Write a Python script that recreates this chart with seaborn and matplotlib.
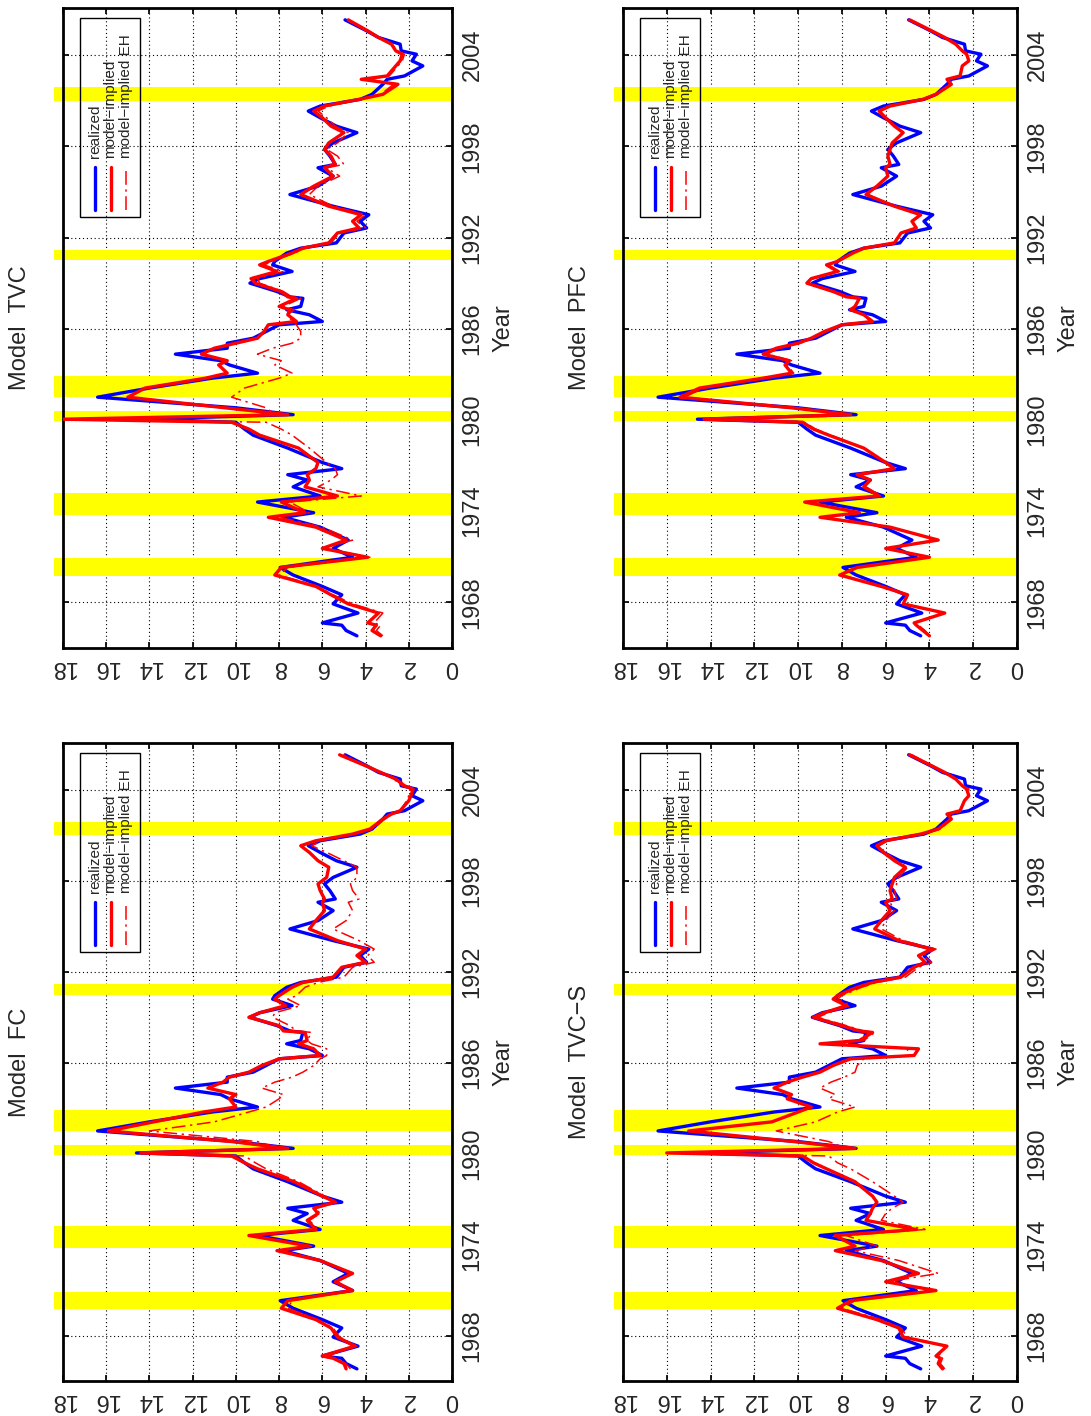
import matplotlib
matplotlib.use("Agg")
import matplotlib.pyplot as plt
from matplotlib.patches import Rectangle
from matplotlib.lines import Line2D
import seaborn as sns

sns.set_theme(style="white")
plt.rcParams["font.family"] = ["Liberation Sans", "DejaVu Sans"]

# sample dates (years) shared by all series
years = [1965.8, 1966.15, 1966.5, 1966.65, 1967.3, 1967.9, 1968.5, 1969.05, 1969.8, 1970.3,
         1970.97, 1971.55, 1972.1, 1972.95, 1973.6, 1973.9, 1974.6, 1975.0, 1975.6, 1976.05,
         1976.4, 1976.8, 1977.2, 1978.15, 1979.0, 1979.4, 1979.85, 1980.05, 1980.35, 1980.8,
         1981.5, 1982.1, 1982.75, 1983.08, 1983.62, 1983.9, 1984.33, 1984.72, 1985.05, 1985.38,
         1985.82, 1986.26, 1986.48, 1986.92, 1987.25, 1987.47, 1988.0, 1988.1, 1988.45, 1989.0,
         1989.3, 1989.77, 1990.2, 1990.43, 1990.98, 1991.3, 1991.65, 1992.3, 1992.63, 1993.07,
         1993.5, 1994.06, 1994.83, 1995.38, 1996.04, 1996.59, 1996.81, 1997.36, 1997.8, 1998.23,
         1998.9, 1999.33, 1999.88, 2000.32, 2000.65, 2001.09, 2001.42, 2002.08, 2002.41, 2002.63,
         2003.29, 2003.62, 2004.06, 2004.28, 2004.72, 2005.16, 2005.6, 2006.32]

realized = [4.4, 4.9, 5.1, 6.0, 4.35, 5.5, 5.1, 6.0, 7.35, 7.95,
            4.6, 5.5, 4.8, 6.1, 7.8, 6.4, 9.0, 6.1, 7.35, 6.7,
            7.6, 5.1, 6.0, 7.6, 9.2, 9.6, 10.0, 14.6, 7.35, 10.0,
            16.4, 14.0, 11.1, 9.0, 10.3, 10.7, 12.8, 10.4, 10.4, 9.2,
            8.6, 8.0, 6.0, 6.6, 7.65, 7.0, 6.9, 7.5, 8.1, 9.35,
            8.9, 7.4, 8.3, 8.2, 7.65, 7.0, 5.35, 5.0, 3.95, 4.25,
            3.85, 5.5, 7.5, 6.2, 5.5, 6.2, 5.4, 5.65, 5.9, 5.5,
            4.4, 5.35, 6.1, 6.65, 6.1, 4.25, 3.7, 3.2, 3.0, 2.2,
            1.35, 1.85, 1.65, 2.35, 2.4, 3.4, 3.95, 4.95]

fc_model = [4.9, 5.0, 5.5, 6.0, 4.5, 5.3, 5.6, 6.3, 7.9, 7.6,
            4.6, 5.4, 4.6, 6.1, 8.1, 6.6, 9.4, 6.3, 6.7, 6.2,
            6.4, 5.4, 6.0, 7.3, 9.0, 9.6, 10.2, 14.4, 7.6, 10.2,
            15.9, 13.8, 11.5, 10.0, 10.3, 10.0, 11.3, 10.6, 10.3, 9.4,
            8.8, 8.0, 6.1, 6.4, 7.1, 6.7, 6.8, 7.8, 8.0, 9.4,
            8.9, 7.7, 8.2, 8.0, 7.4, 6.9, 5.5, 5.1, 4.0, 4.4,
            4.0, 5.3, 6.6, 6.3, 5.9, 6.0, 5.9, 6.1, 6.2, 5.8,
            5.7, 6.2, 6.6, 7.0, 6.3, 4.6, 3.8, 3.2, 2.8, 2.4,
            2.0, 1.9, 1.8, 2.2, 2.6, 3.3, 4.0, 5.2]
fc_eh = [4.7, 4.9, 5.4, 5.8, 4.4, 5.2, 5.5, 6.2, 7.6, 7.4,
         4.7, 5.3, 4.6, 6.0, 7.9, 6.5, 9.2, 6.2, 6.6, 6.1,
         6.3, 5.3, 5.9, 7.1, 8.6, 9.1, 9.6, 14.0, 8.0, 9.0,
         14.0, 11.0, 9.4, 8.6, 8.0, 7.8, 8.8, 8.2, 7.4, 6.9,
         6.4, 6.1, 5.8, 5.8, 6.5, 6.7, 6.5, 7.2, 7.5, 8.3,
         8.2, 7.0, 7.6, 7.2, 6.8, 6.2, 5.0, 4.6, 3.6, 3.9,
         3.6, 4.3, 5.5, 4.9, 4.6, 4.8, 4.3, 4.6, 4.7, 4.4,
         4.4, 5.0, 5.8, 6.5, 6.0, 4.5, 3.7, 3.1, 2.8, 2.4,
         2.1, 2.0, 1.9, 2.3, 2.7, 3.3, 4.0, 5.0]

tvc_model = [3.3, 3.7, 3.5, 3.9, 3.4, 4.8, 5.6, 6.3, 8.2, 7.9,
             3.9, 6.0, 4.9, 6.3, 8.5, 6.8, 7.9, 5.3, 6.8, 6.6,
             6.7, 6.3, 6.2, 7.1, 8.9, 9.4, 10.2, 18.0, 7.6, 10.5,
             15.0, 14.2, 11.4, 10.4, 10.8, 10.4, 11.6, 11.0, 10.0, 9.0,
             8.7, 8.5, 7.2, 7.6, 7.5, 8.0, 7.2, 7.6, 7.9, 9.1,
             9.3, 8.1, 8.9, 8.5, 7.4, 6.9, 5.7, 5.3, 4.3, 4.6,
             4.2, 5.7, 7.0, 6.4, 5.5, 5.9, 5.4, 5.6, 5.9, 5.7,
             5.0, 5.6, 6.0, 6.4, 5.9, 4.3, 3.2, 2.5, 4.2, 3.0,
             2.6, 2.4, 2.3, 2.6, 2.8, 3.4, 3.9, 4.8]
tvc_eh = [3.2, 3.5, 3.3, 3.6, 3.2, 4.6, 5.5, 6.2, 8.0, 7.6,
          3.8, 5.9, 4.6, 6.0, 8.0, 6.6, 7.5, 4.2, 6.2, 5.6,
          5.3, 5.4, 5.8, 6.6, 7.4, 7.9, 8.6, 17.0, 8.2, 8.6,
          10.2, 9.6, 8.0, 7.4, 8.2, 7.9, 9.0, 8.3, 7.4, 7.0,
          7.0, 7.2, 7.4, 7.6, 7.3, 7.8, 7.0, 7.4, 7.8, 8.9,
          9.0, 7.8, 8.7, 8.3, 7.3, 6.8, 5.6, 5.2, 4.0, 4.4,
          4.0, 5.5, 6.6, 6.2, 5.2, 5.8, 5.0, 5.3, 5.8, 5.3,
          4.8, 5.4, 5.8, 6.2, 5.7, 4.2, 3.3, 2.7, 3.8, 2.9,
          2.5, 2.3, 2.2, 2.5, 2.8, 3.4, 4.0, 4.8]

tvcs_model = [3.4, 3.6, 3.5, 3.7, 3.2, 5.2, 5.4, 6.4, 8.2, 7.6,
              3.7, 6.0, 4.5, 6.2, 8.3, 7.4, 8.3, 4.6, 6.9, 6.7,
              6.6, 6.4, 6.6, 7.4, 8.7, 9.3, 9.8, 16.0, 7.4, 10.2,
              15.0, 11.2, 10.0, 9.4, 10.5, 10.3, 11.1, 10.5, 9.8, 9.0,
              8.4, 7.6, 4.7, 4.5, 9.0, 7.2, 6.6, 7.2, 8.0, 9.3,
              8.8, 7.8, 8.4, 8.2, 7.3, 6.6, 5.3, 4.7, 4.2, 4.5,
              3.9, 5.4, 6.5, 6.2, 5.8, 6.0, 5.7, 5.8, 5.7, 5.6,
              5.1, 5.6, 6.1, 6.4, 6.0, 4.4, 3.6, 3.0, 3.2, 2.6,
              2.4, 2.2, 2.3, 2.5, 2.8, 3.3, 3.9, 4.9]
tvcs_eh = [3.3, 3.5, 3.4, 3.6, 3.2, 5.0, 5.3, 6.2, 8.0, 7.4,
           3.6, 5.9, 3.6, 5.4, 7.4, 6.4, 7.8, 4.2, 6.2, 6.0,
           5.7, 5.2, 5.6, 6.6, 7.6, 8.2, 8.6, 16.0, 7.8, 8.6,
           11.0, 9.2, 8.2, 7.4, 8.6, 8.3, 9.0, 8.5, 7.9, 7.4,
           7.3, 7.0, 5.0, 5.0, 8.6, 7.0, 6.5, 7.0, 7.8, 9.1,
           8.6, 7.6, 8.2, 8.0, 7.1, 6.4, 5.1, 4.5, 3.9, 4.3,
           3.7, 5.2, 6.2, 6.0, 5.6, 5.8, 5.5, 5.6, 5.5, 5.4,
           5.0, 5.5, 6.0, 6.3, 5.9, 4.3, 3.5, 3.0, 3.1, 2.6,
           2.4, 2.2, 2.2, 2.5, 2.8, 3.3, 3.9, 4.8]

pfc_model = [4.0, 4.3, 4.6, 4.7, 3.3, 5.2, 5.0, 6.2, 8.1, 7.3,
             4.0, 6.0, 3.6, 5.8, 9.0, 7.2, 9.7, 6.3, 7.0, 6.7,
             7.3, 5.6, 6.0, 7.0, 8.6, 9.3, 9.8, 14.3, 7.6, 10.3,
             15.4, 14.5, 11.6, 10.3, 10.6, 10.4, 11.6, 11.0, 10.0, 9.4,
             8.8, 8.0, 6.6, 7.0, 7.6, 7.4, 7.2, 7.8, 8.4, 9.6,
             9.4, 8.2, 8.7, 8.2, 7.5, 7.0, 5.6, 5.3, 4.6, 4.8,
             4.4, 5.6, 6.9, 6.4, 5.9, 6.0, 5.8, 5.9, 5.8, 5.7,
             5.2, 5.6, 6.0, 6.3, 5.8, 4.3, 3.7, 3.0, 3.2, 2.6,
             2.5, 2.2, 2.3, 2.5, 2.8, 3.3, 3.9, 4.9]
pfc_eh = [4.0, 4.2, 4.5, 4.7, 3.4, 5.1, 5.0, 6.1, 8.0, 7.3,
          4.1, 5.9, 3.7, 5.8, 8.8, 7.1, 9.6, 6.2, 6.9, 6.7,
          7.2, 5.6, 6.0, 7.0, 8.5, 9.2, 9.7, 14.2, 7.7, 10.2,
          15.2, 14.3, 11.5, 10.2, 10.5, 10.3, 11.4, 10.9, 9.9, 9.3,
          8.7, 8.0, 6.7, 7.0, 7.5, 7.4, 7.2, 7.7, 8.3, 9.5,
          9.3, 8.1, 8.6, 8.2, 7.5, 7.0, 5.6, 5.3, 4.6, 4.8,
          4.4, 5.6, 6.8, 6.4, 5.9, 6.0, 5.8, 5.9, 5.8, 5.7,
          5.2, 5.6, 6.0, 6.3, 5.8, 4.3, 3.7, 3.0, 3.2, 2.6,
          2.5, 2.2, 2.3, 2.5, 2.8, 3.3, 3.9, 4.9]

# NBER recessions (start, end)
rec_start = [1969.75, 1973.75, 1979.9, 1981.5, 1990.5, 2001.0]
rec_end = [1970.9, 1975.2, 1980.6, 1982.9, 1991.2, 2001.9]

value_ticks = [0, 2, 4, 6, 8, 10, 12, 14, 16, 18]
year_ticks = [1968, 1974, 1980, 1986, 1992, 1998, 2004]
legend_labels = ["realized", "model\u2212implied", "model\u2212implied EH"]

W, H = 1091, 1416
panels = [
    ("Model  TVC", tvc_model, tvc_eh, (63, 8, 389, 640)),
    ("Model  PFC", pfc_model, pfc_eh, (623, 8, 394, 640)),
    ("Model  FC", fc_model, fc_eh, (63, 743, 389, 638)),
    ("Model  TVC\u2212S", tvcs_model, tvcs_eh, (623, 743, 394, 638)),
]

fig = plt.figure(figsize=(W / 100, H / 100), dpi=100)
fs = 17
eh_dash = (0, (9, 3, 1.5, 3))

for title, model, eh, (px, py, pw, ph) in panels:
    ax = fig.add_axes([px / W, 1 - (py + ph) / H, pw / W, ph / H])

    for s, e in zip(rec_start, rec_end):
        ax.fill_betweenx([s, e], 0, 18.42, color="yellow", lw=0, zorder=1, clip_on=False)

    sns.lineplot(x=realized, y=years, orient="y", sort=False, estimator=None,
                 color="blue", linewidth=2.4, ax=ax, zorder=3)
    sns.lineplot(x=model, y=years, orient="y", sort=False, estimator=None,
                 color="red", linewidth=2.4, ax=ax, zorder=4)
    sns.lineplot(x=eh, y=years, orient="y", sort=False, estimator=None,
                 color="red", linewidth=1.1, linestyle=eh_dash, ax=ax, zorder=5)

    ax.set_xlim(18, 0)
    ax.set_ylim(1965, 2007.1)
    ax.set_xticks(value_ticks)
    ax.set_yticks(year_ticks)
    ax.yaxis.tick_right()
    ax.yaxis.set_label_position("right")
    ax.tick_params(axis="x", labelrotation=180, labelsize=fs, direction="in",
                   length=4, top=True, bottom=True, pad=6, color="black")
    ax.tick_params(axis="y", labelrotation=90, labelsize=fs, direction="in",
                   length=4, left=True, right=True, pad=7, color="black")
    for t in ax.get_yticklabels():
        t.set_va("center")
    ax.grid(True, color="black", linestyle=(0, (1, 2.5)), linewidth=0.8)
    for sp in ax.spines.values():
        sp.set_visible(True)
        sp.set_color("black")
        sp.set_linewidth(2.0)
    ax.set_xlabel("")
    ax.set_ylabel("Year", rotation=90, fontsize=fs, labelpad=6)

    ax.text(-0.11, 0.5, title, rotation=90, transform=ax.transAxes,
            ha="center", va="center", fontsize=fs)

    # hand-made legend, rotated like the rest of the page
    bx0, bx1 = 17 / pw, 77 / pw
    by1 = 1 - 10 / ph
    by0 = 1 - 209 / ph
    ax.add_patch(Rectangle((bx0, by0), bx1 - bx0, by1 - by0, transform=ax.transAxes,
                           fill=False, edgecolor="black", lw=1.0, zorder=6))
    styles = [("blue", 2.4, "-"), ("red", 2.4, "-"), ("red", 1.1, eh_dash)]
    for i, (lab, (c, lw, ls)) in enumerate(zip(legend_labels, styles)):
        lx = (32 + 15.5 * i) / pw
        ax.add_line(Line2D([lx, lx], [1 - 202 / ph, 1 - 159 / ph], transform=ax.transAxes,
                           color=c, lw=lw, linestyle=ls, zorder=6))
        ax.text(lx, 1 - 150 / ph, lab, rotation=90, transform=ax.transAxes,
                ha="center", va="bottom", fontsize=11, zorder=6)

fig.savefig("out.png", dpi=100)
